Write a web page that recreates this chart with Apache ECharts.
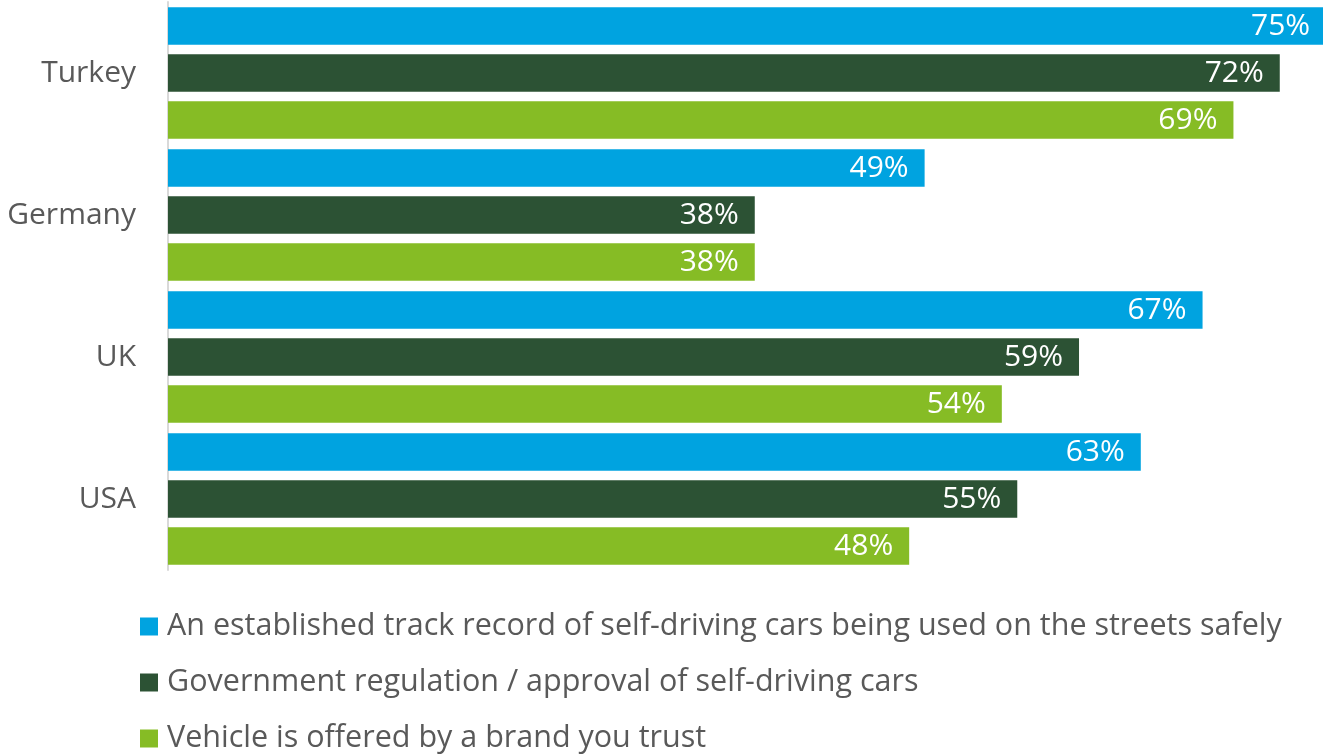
<!DOCTYPE html>
<html>
<head>
<meta charset="utf-8">
<script src="https://cdn.jsdelivr.net/npm/echarts@6/dist/echarts.min.js"></script>
<style>
html,body{margin:0;padding:0;background:#fff;}
#chart{width:1323px;height:756px;}
</style>
</head>
<body>
<div id="chart"></div>
<script>
const categories = ['Turkey', 'Germany', 'UK', 'USA'];
const seriesNames = [
  'An established track record of self-driving cars being used on the streets safely',
  'Government regulation / approval of self-driving cars',
  'Vehicle is offered by a brand you trust'
];
const trackRecord = [75, 49, 67, 63];
const govRegulation = [72, 38, 59, 55];
const trustedBrand = [69, 38, 54, 48];
const colors = ['#00A3E0', '#2C5234', '#86BC25'];

const font = '"Open Sans", "Noto Sans", sans-serif';
const chart = echarts.init(document.getElementById('chart'));

function makeSeries(name, data, color) {
  return {
    name: name,
    type: 'bar',
    data: data,
    barGap: '25%',
    barCategoryGap: '7.4%',
    itemStyle: { color: color },
    label: {
      show: true,
      position: 'insideRight',
      distance: 16,
      color: '#ffffff',
      fontFamily: font,
      fontSize: 30,
      formatter: '{c}%'
    },
    clip: false
  };
}

chart.setOption({
  animation: false,
  grid: { left: 168, top: 2, right: 0, height: 568, containLabel: false },
  xAxis: {
    type: 'value',
    min: 0,
    max: 74.8,
    show: false
  },
  yAxis: {
    type: 'category',
    data: categories,
    inverse: true,
    axisLine: { show: true, lineStyle: { color: '#d9d9d9', width: 2 } },
    axisTick: { show: false },
    axisLabel: {
      color: '#595959',
      fontFamily: font,
      fontSize: 30,
      margin: 32
    }
  },
  legend: {
    orient: 'vertical',
    left: 140,
    top: 611,
    height: 170,
    padding: 0,
    itemWidth: 18,
    itemHeight: 18,
    itemGap: 25,
    icon: 'rect',
    textStyle: {
      color: '#595959',
      fontFamily: font,
      fontSize: 30.5,
      lineHeight: 28,
      padding: [0, 0, 0, 4]
    },
    data: seriesNames
  },
  series: [
    makeSeries(seriesNames[0], trackRecord, colors[0]),
    makeSeries(seriesNames[1], govRegulation, colors[1]),
    makeSeries(seriesNames[2], trustedBrand, colors[2])
  ]
});
</script>
</body>
</html>
